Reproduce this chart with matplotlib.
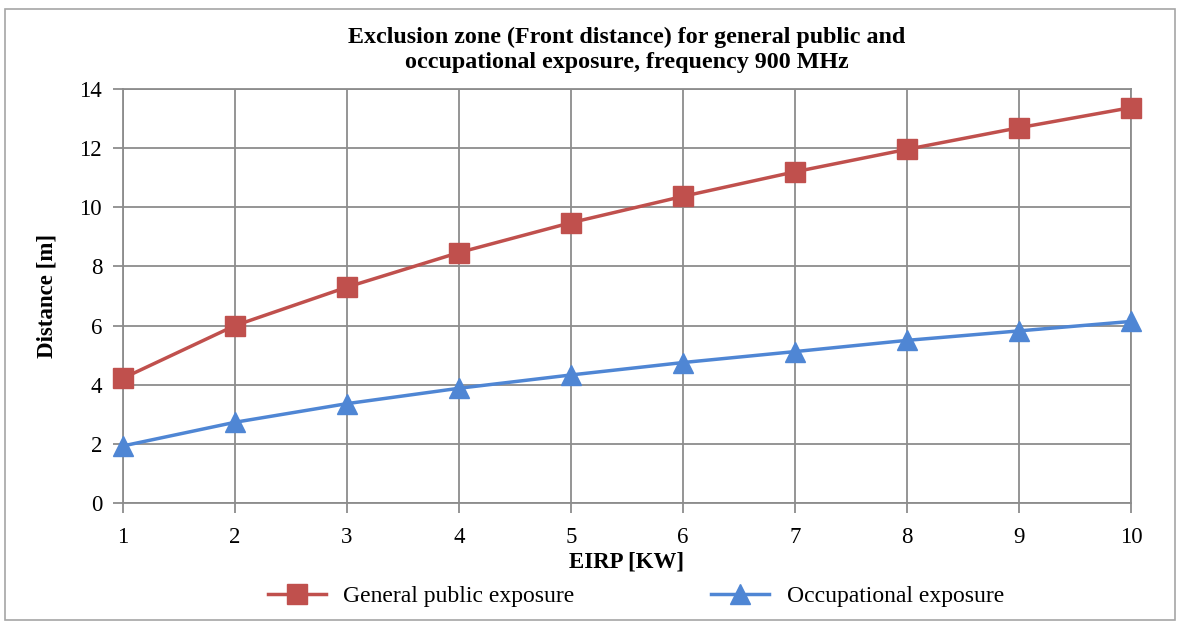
import matplotlib
matplotlib.use("Agg")
import matplotlib.pyplot as plt
from matplotlib.patches import Rectangle

eirp_kw = [1, 2, 3, 4, 5, 6, 7, 8, 9, 10]
general_public = [4.22, 6.0, 7.3, 8.47, 9.48, 10.37, 11.2, 11.96, 12.69, 13.37]
occupational = [1.93, 2.73, 3.36, 3.88, 4.33, 4.75, 5.12, 5.5, 5.82, 6.14]
y_ticks = [0, 2, 4, 6, 8, 10, 12, 14]

red = "#C0504D"
blue = "#4F86D4"
grid_c = "#8C8C8C"

plt.rcParams["font.family"] = ["Liberation Serif", "DejaVu Serif"]

fig = plt.figure(figsize=(11.84, 6.28), dpi=100)
fig.patches.append(Rectangle((5 / 1184, 1 - 620 / 628), 1170 / 1184, 611 / 628,
                             transform=fig.transFigure, fill=False,
                             edgecolor="#A6A6A6", linewidth=1.2))

ax = fig.add_axes([123 / 1184, 1 - 503 / 628, 1008 / 1184, 414 / 628])

ax.plot(eirp_kw, general_public, color=red, linewidth=2.5, marker="s",
        markersize=14, markeredgecolor=red, label="General public exposure",
        zorder=3, clip_on=False)
ax.plot(eirp_kw, occupational, color=blue, linewidth=2.5, marker="^",
        markersize=14, markeredgecolor=blue, label="Occupational exposure",
        zorder=3, clip_on=False)

ax.set_xlim(1, 10)
ax.set_ylim(0, 14)
ax.set_xticks(eirp_kw)
ax.set_yticks(y_ticks)
ax.grid(True, color=grid_c, linewidth=1.3)
ax.set_axisbelow(True)
for s in ax.spines.values():
    s.set_color(grid_c)
    s.set_linewidth(1.3)
ax.tick_params(axis="both", colors=grid_c, labelcolor="black", labelsize=16.5,
               length=7, width=1.3, direction="out")
ax.tick_params(axis="x", pad=10)
ax.tick_params(axis="y", pad=8)

ax.set_xlabel("EIRP [KW]", fontsize=16.5, fontweight="bold", labelpad=3)
ax.set_ylabel("Distance [m]", fontsize=16.5, fontweight="bold", labelpad=16)

fig.text(627 / 1184, 1 - 50 / 628,
         "Exclusion zone (Front distance) for general public and\noccupational exposure, frequency 900 MHz",
         ha="center", va="center", fontsize=17.3, fontweight="bold", linespacing=1.2)

fig.legend(loc="center", bbox_to_anchor=(636 / 1184, 1 - 596 / 628), ncol=2,
           frameon=False, fontsize=17, handlelength=2.45, columnspacing=5.8,
           handletextpad=0.75)

fig.savefig("out.png", dpi=100, facecolor="white")
